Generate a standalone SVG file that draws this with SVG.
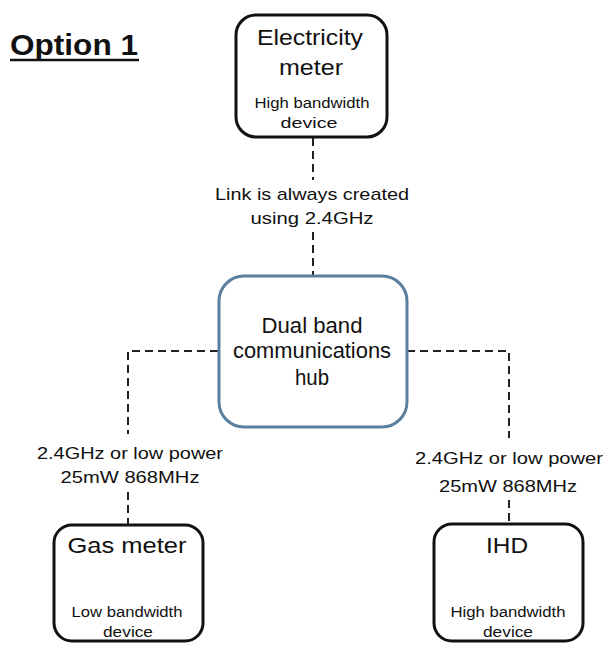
<svg xmlns="http://www.w3.org/2000/svg" width="603" height="645" viewBox="0 0 603 645" font-family="'Liberation Sans', sans-serif">
<style>
text{font-family:'Liberation Sans',sans-serif;fill:#111;text-anchor:middle}
.box{fill:#fff;stroke:#111;stroke-width:3}
.hub{fill:#fff;stroke:#5a7f9f;stroke-width:3}
.big{font-size:22.5px}
.small{font-size:15.5px}
.lbl{font-size:17px}
.conn{fill:none;stroke:#222;stroke-width:2;stroke-dasharray:8 5}
</style>
<rect width="603" height="645" fill="#fff"/>
<g id="title">
<text x="74" y="55" style="font-size:29px;font-weight:bold" textLength="128" lengthAdjust="spacingAndGlyphs">Option 1</text>
<line x1="10" y1="60" x2="139" y2="60" stroke="#111" stroke-width="2.5"/>
</g>
<g id="connectors">
<path class="conn" d="M313 138 V180"/>
<path class="conn" d="M313 232 V275"/>
<path class="conn" d="M218 351 H128 V434"/>
<path class="conn" d="M128 492 V525"/>
<path class="conn" d="M407 351 H509 V438"/>
<path class="conn" d="M509 500 V524"/>
</g>
<g id="link-label">
<text class="lbl" x="312" y="200" textLength="194" lengthAdjust="spacingAndGlyphs">Link is always created</text>
<text class="lbl" x="312" y="224" textLength="123" lengthAdjust="spacingAndGlyphs">using 2.4GHz</text>
</g>
<g id="left-label">
<text class="lbl" x="130" y="459" textLength="186" lengthAdjust="spacingAndGlyphs">2.4GHz or low power</text>
<text class="lbl" x="130" y="483" textLength="139" lengthAdjust="spacingAndGlyphs">25mW 868MHz</text>
</g>
<g id="right-label">
<text class="lbl" x="509" y="464" textLength="188" lengthAdjust="spacingAndGlyphs">2.4GHz or low power</text>
<text class="lbl" x="508" y="492" textLength="138" lengthAdjust="spacingAndGlyphs">25mW 868MHz</text>
</g>
<g id="electricity-meter">
<rect class="box" x="236" y="15" width="151" height="122" rx="20"/>
<text class="big" x="310" y="45" textLength="106" lengthAdjust="spacingAndGlyphs">Electricity</text>
<text class="big" x="311" y="75" textLength="64" lengthAdjust="spacingAndGlyphs">meter</text>
<text class="small" x="312" y="108" textLength="115" lengthAdjust="spacingAndGlyphs">High bandwidth</text>
<text class="small" x="309" y="128" textLength="57" lengthAdjust="spacingAndGlyphs">device</text>
</g>
<g id="hub">
<rect class="hub" x="219" y="276" width="188" height="151" rx="25"/>
<text class="big" x="312" y="333" textLength="101" lengthAdjust="spacingAndGlyphs">Dual band</text>
<text class="big" x="312" y="358" textLength="158" lengthAdjust="spacingAndGlyphs">communications</text>
<text class="big" x="312" y="385" textLength="34" lengthAdjust="spacingAndGlyphs">hub</text>
</g>
<g id="gas-meter">
<rect class="box" x="54" y="525" width="149" height="116" rx="18"/>
<text class="big" x="127" y="553" textLength="119" lengthAdjust="spacingAndGlyphs">Gas meter</text>
<text class="small" x="127" y="617" textLength="111" lengthAdjust="spacingAndGlyphs">Low bandwidth</text>
<text class="small" x="128" y="637" textLength="50" lengthAdjust="spacingAndGlyphs">device</text>
</g>
<g id="ihd">
<rect class="box" x="434" y="524" width="149" height="117" rx="18"/>
<text class="big" x="507" y="553" textLength="42" lengthAdjust="spacingAndGlyphs">IHD</text>
<text class="small" x="508" y="617" textLength="115" lengthAdjust="spacingAndGlyphs">High bandwidth</text>
<text class="small" x="508" y="637" textLength="50" lengthAdjust="spacingAndGlyphs">device</text>
</g>
</svg>
